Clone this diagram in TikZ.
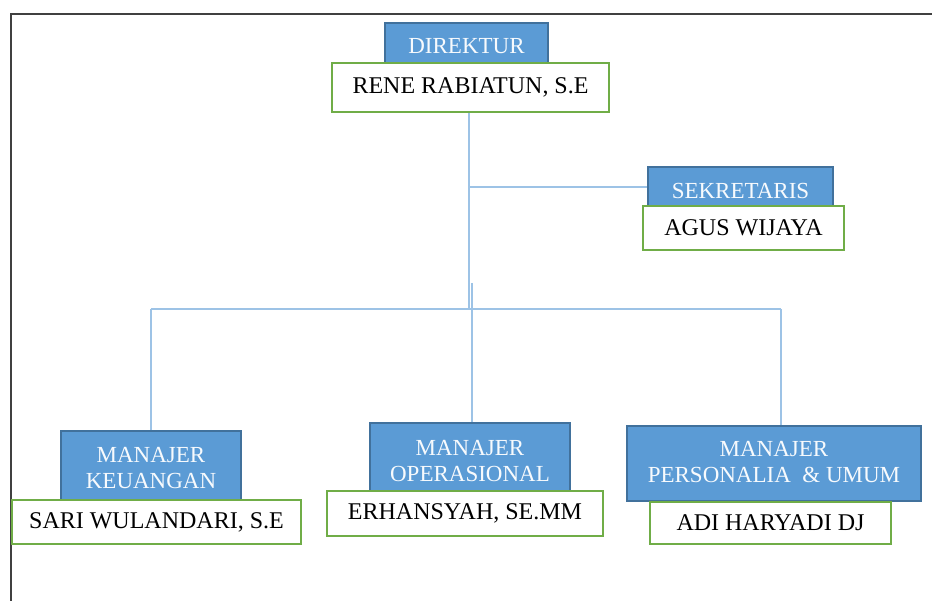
\documentclass[tikz,border=0pt]{standalone}
\usepackage{fontspec}
\setmainfont{Liberation Serif}
\definecolor{boxblue}{HTML}{5B9BD5}
\definecolor{boxedge}{HTML}{41719C}
\definecolor{boxgreen}{HTML}{70AD47}
\definecolor{linkblue}{HTML}{9DC3E6}
\definecolor{framegray}{HTML}{404040}
\tikzset{
  rolebox/.style={draw=boxedge, fill=boxblue, line width=1.5pt, inner sep=0pt},
  roletext/.style={text=white!95!boxblue, align=center, inner sep=0pt,
    font=\fontsize{23}{26}\selectfont},
  namebox/.style={draw=boxgreen, fill=white, line width=2pt, inner sep=0pt,
    text=black, align=center, font=\fontsize{24}{27}\selectfont},
  link/.style={draw=linkblue, line width=1.5pt}
}
\begin{document}
\begin{tikzpicture}[x=1pt,y=-1pt]
\useasboundingbox (0,0) rectangle (932,601);
% frame
\draw[framegray, line width=2.4pt] (11,601) -- (11,14) -- (932,14);
% role boxes
\node[rolebox, minimum width=163pt, minimum height=41pt,
  label={[roletext, yshift=-3pt]center:DIREKTUR}] (dir) at (466.5,43.5) {};
\node[rolebox, minimum width=185pt, minimum height=40pt,
  label={[roletext, yshift=-4.5pt]center:SEKRETARIS}] (sek) at (740.5,187) {};
\node[rolebox, minimum width=180pt, minimum height=69pt,
  label={[roletext, yshift=-2.5pt]center:{MANAJER\\KEUANGAN}}] (keu) at (151,465.5) {};
\node[rolebox, minimum width=200pt, minimum height=68pt,
  label={[roletext, yshift=-4pt]center:{MANAJER\\OPERASIONAL}}] (ops) at (470,457) {};
\node[rolebox, minimum width=294pt, minimum height=75pt,
  label={[roletext, yshift=1pt]center:{MANAJER\\PERSONALIA \ \& UMUM}}] (per) at (774,463.5) {};
% name boxes
\node[namebox, minimum width=277pt, minimum height=49pt] (rene) at (470.5,87.5) {RENE RABIATUN, S.E};
\node[namebox, minimum width=201pt, minimum height=44pt] (agus) at (743.5,228) {AGUS WIJAYA};
\node[namebox, minimum width=289pt, minimum height=44pt] (sari) at (156.5,522) {SARI WULANDARI, S.E};
\node[namebox, minimum width=276pt, minimum height=45pt] (erh) at (465,513.5) {ERHANSYAH, SE.MM};
\node[namebox, minimum width=241pt, minimum height=42pt] (adi) at (770.5,523) {ADI HARYADI DJ};
% connectors
\coordinate (j1) at (469,187);
\coordinate (j2) at (469,309);
\coordinate (hl) at (151,309);
\coordinate (hr) at (781,309);
\coordinate (opsTop) at (472,283);
\draw[link] (rene.south -| j1) -- (j1) -- (sek.west);
\draw[link] (j1) -- (j2);
\draw[link] (hl) -- (hr);
\draw[link] (hl) -- (keu.north);
\draw[link] (hr) -- (hr |- per.north);
\draw[link] (opsTop) -- (opsTop |- ops.north);
\end{tikzpicture}
\end{document}
